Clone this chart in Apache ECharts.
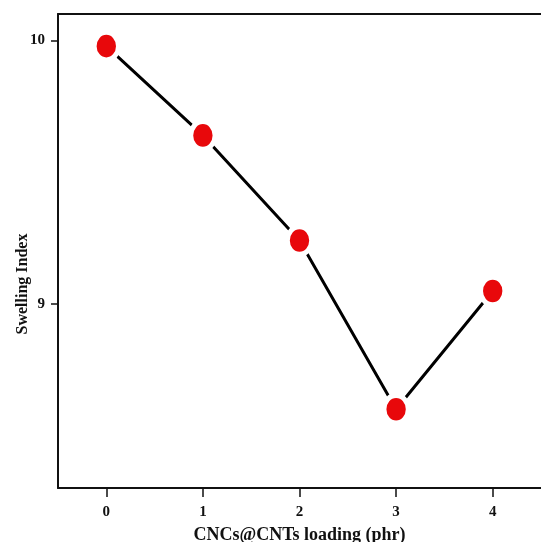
<!DOCTYPE html>
<html lang="en">
<head>
    <meta charset="UTF-8">
    <title>Swelling Index</title>
    <script src="https://cdn.jsdelivr.net/npm/echarts@6.0.0/dist/echarts.min.js"></script>
    <style>
        html, body { margin: 0; padding: 0; background: #fff; }
    </style>
</head>
<body>
    <div id="chart" style="width: 541px; height: 542px;"></div>

    <script>
        // Datos
        var loading = ['0', '1', '2', '3', '4'];
        var swelling = [9.978, 9.639, 9.240, 8.599, 9.048];
        var yTicks = [9, 10];

        var chart = echarts.init(document.getElementById('chart'));
        var serif = '"Liberation Serif", "DejaVu Serif", serif';

        var option = {
            backgroundColor: '#fff',
            animation: false,
            grid: { left: 58, top: 14, width: 483, height: 474, outerBoundsMode: 'none', containLabel: false },
            xAxis: [
                {
                    type: 'category',
                    data: loading,
                    boundaryGap: true,
                    name: 'CNCs@CNTs loading (phr)',
                    nameLocation: 'middle',
                    nameGap: 38,
                    nameMoveOverlap: false,
                    nameTextStyle: { fontFamily: serif, fontWeight: 'bold', fontSize: 18, color: '#111' },
                    axisLine: { show: true, lineStyle: { color: '#111', width: 2 } },
                    axisTick: { show: true, alignWithLabel: true, length: 9, lineStyle: { color: '#111', width: 1.5 } },
                    axisLabel: { margin: 17, fontFamily: serif, fontWeight: 'bold', fontSize: 15, color: '#111' },
                    splitLine: { show: false }
                },
                {
                    // borde superior
                    type: 'category',
                    data: loading,
                    position: 'top',
                    axisLine: { show: true, lineStyle: { color: '#111', width: 2 } },
                    axisTick: { show: false },
                    axisLabel: { show: false }
                }
            ],
            yAxis: {
                type: 'value',
                min: 8.3,
                max: 10.1,
                name: 'Swelling Index',
                nameLocation: 'middle',
                nameGap: 27,
                nameMoveOverlap: false,
                nameTextStyle: { fontFamily: serif, fontWeight: 'bold', fontSize: 16, color: '#111', padding: [0, 66, 0, 0] },
                axisLine: { show: true, lineStyle: { color: '#111', width: 2 } },
                axisTick: { show: true, inside: false, length: 7, customValues: yTicks, lineStyle: { color: '#111', width: 1.5, opacity: 1 } },
                axisLabel: { margin: 13, customValues: yTicks, fontFamily: serif, fontWeight: 'bold', fontSize: 15, color: '#111' },
                splitLine: { show: false }
            },
            series: [
                {
                    type: 'line',
                    data: swelling,
                    symbol: 'circle',
                    symbolSize: [24, 28],
                    lineStyle: { color: '#000', width: 3 },
                    itemStyle: { color: '#e8080b', borderColor: '#fff', borderWidth: 5 },
                    z: 3
                }
            ]
        };

        chart.setOption(option);
    </script>
</body>
</html>
